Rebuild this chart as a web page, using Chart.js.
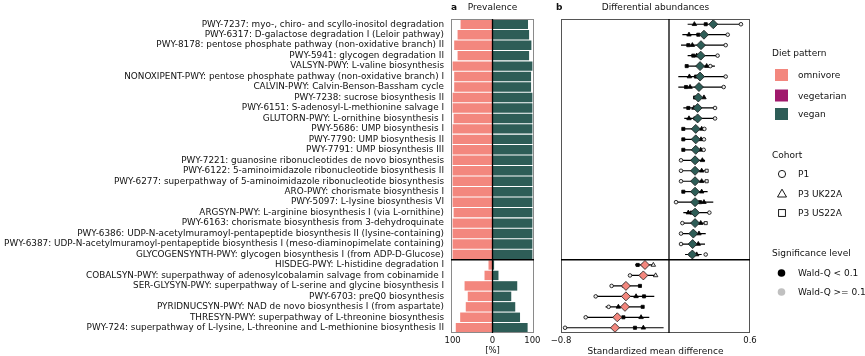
<!DOCTYPE html>
<html><head><meta charset="utf-8">
<script src="https://cdn.jsdelivr.net/npm/chart.js@4.4.1/dist/chart.umd.min.js"></script>
<style>
html,body{margin:0;padding:0;background:#fff;}
body{width:865px;height:356px;overflow:hidden;position:relative;font-family:"DejaVu Sans",sans-serif;color:#111;}
canvas{position:absolute;top:0;}
#ca{left:0;}
#cb{left:545px;}
.t{position:absolute;white-space:nowrap;line-height:1;transform:translateY(-50%);font-size:9px;}
.c{transform:translate(-50%,-50%);}
.b{font-weight:bold;}
svg{position:absolute;left:0;top:0;}
</style></head><body>
<canvas id="ca" width="545" height="356"></canvas>
<canvas id="cb" width="320" height="356"></canvas>

<div class="t b" style="left:451px;top:7px;">a</div>
<div class="t c" style="left:492.5px;top:7px;">Prevalence</div>
<div class="t b" style="left:556px;top:7px;">b</div>
<div class="t c" style="left:655.5px;top:7px;">Differential abundances</div>
<div class="t c" style="left:492.5px;top:350px;font-size:8.5px;">[%]</div>
<div class="t c" style="left:655.5px;top:351px;">Standardized mean difference</div>

<svg width="865" height="356" id="lg"></svg>
<div id="legendText"></div>

<script>
// ---------------- data ----------------
const pathways = [
  "PWY-7237: myo-, chiro- and scyllo-inositol degradation",
  "PWY-6317: D-galactose degradation I (Leloir pathway)",
  "PWY-8178: pentose phosphate pathway (non-oxidative branch) II",
  "PWY-5941: glycogen degradation II",
  "VALSYN-PWY: L-valine biosynthesis",
  "NONOXIPENT-PWY: pentose phosphate pathway (non-oxidative branch) I",
  "CALVIN-PWY: Calvin-Benson-Bassham cycle",
  "PWY-7238: sucrose biosynthesis II",
  "PWY-6151: S-adenosyl-L-methionine salvage I",
  "GLUTORN-PWY: L-ornithine biosynthesis I",
  "PWY-5686: UMP biosynthesis I",
  "PWY-7790: UMP biosynthesis II",
  "PWY-7791: UMP biosynthesis III",
  "PWY-7221: guanosine ribonucleotides de novo biosynthesis",
  "PWY-6122: 5-aminoimidazole ribonucleotide biosynthesis II",
  "PWY-6277: superpathway of 5-aminoimidazole ribonucleotide biosynthesis",
  "ARO-PWY: chorismate biosynthesis I",
  "PWY-5097: L-lysine biosynthesis VI",
  "ARGSYN-PWY: L-arginine biosynthesis I (via L-ornithine)",
  "PWY-6163: chorismate biosynthesis from 3-dehydroquinate",
  "PWY-6386: UDP-N-acetylmuramoyl-pentapeptide biosynthesis II (lysine-containing)",
  "PWY-6387: UDP-N-acetylmuramoyl-pentapeptide biosynthesis I (meso-diaminopimelate containing)",
  "GLYCOGENSYNTH-PWY: glycogen biosynthesis I (from ADP-D-Glucose)",
  "HISDEG-PWY: L-histidine degradation I",
  "COBALSYN-PWY: superpathway of adenosylcobalamin salvage from cobinamide I",
  "SER-GLYSYN-PWY: superpathway of L-serine and glycine biosynthesis I",
  "PWY-6703: preQ0 biosynthesis",
  "PYRIDNUCSYN-PWY: NAD de novo biosynthesis I (from aspartate)",
  "THRESYN-PWY: superpathway of L-threonine biosynthesis",
  "PWY-724: superpathway of L-lysine, L-threonine and L-methionine biosynthesis II"
];
const splitAfterIndex = 22; // last pathway of the vegan-enriched block

// Prevalence (%)
const omnivorePrevalence = [80,87.5,96,87.5,100,96,96,100,100,97.5,100,100,100,100,100,100,100,100,97.5,100,100,100,100, 10,20,70,62,67,81,92];
const veganPrevalence    = [89,91.7,97.5,91.7,100,96.7,96.7,100,100,100,100,100,100,100,100,100,100,100,100,100,100,100,100, 4,15,62,47,57,69,88];

// Differential abundance: pooled estimate and range
const pooledEffect = [0.328,0.259,0.237,0.235,0.230,0.230,0.222,0.217,0.212,0.212,0.198,0.198,0.198,0.193,0.193,0.193,0.193,0.193,0.193,0.193,0.180,0.175,0.173,
                      -0.178,-0.190,-0.319,-0.319,-0.326,-0.383,-0.400];
const rangeLow  = [0.138,0.099,0.089,0.138,0.128,0.069,0.069,0.180,0.106,0.113,0.101,0.101,0.101,0.082,0.082,0.082,0.100,0.052,0.106,0.099,0.089,0.089,0.119,
                   -0.252,-0.289,-0.425,-0.543,-0.470,-0.617,-0.770];
const rangeHigh = [0.533,0.435,0.420,0.360,0.340,0.420,0.405,0.265,0.341,0.341,0.270,0.267,0.265,0.267,0.285,0.285,0.286,0.328,0.299,0.272,0.272,0.267,0.242,
                   -0.116,-0.099,-0.215,-0.109,-0.195,-0.146,-0.040];
// Cohort estimates
const cohortP1    = [0.533,0.435,0.420,0.360,0.306,0.420,0.405,0.220,0.341,0.341,0.262,0.259,0.257,0.089,0.089,0.089,0.200,0.052,0.299,0.099,0.089,0.089,0.272,
                     -0.190,-0.289,-0.425,-0.543,-0.447,-0.617,-0.770];
const cohortUK22A = [0.188,0.148,0.173,0.205,0.279,0.151,0.156,0.259,0.185,0.148,0.242,0.237,0.235,0.247,0.242,0.242,0.242,0.259,0.143,0.235,0.222,0.217,0.205,
                     -0.116,-0.099,-0.330,-0.244,-0.375,-0.207,-0.190];
const cohortUS22A = [0.272,0.217,0.143,0.180,0.131,0.200,0.126,0.193,0.143,0.195,0.106,0.106,0.106,0.200,0.279,0.279,0.106,0.230,0.168,0.272,0.190,0.185,0.160,
                     -0.232,-0.200,-0.215,-0.185,-0.195,-0.338,-0.252];
// Significance (1: Wald-Q < 0.1, 0: Wald-Q >= 0.1)
const sigP1    = [0,0,0,0,0,0,0,0,0,0,0,0,0,0,0,0,0,0,0,0,0,0,0, 0,0,0,0,0,0,0];
const sigUK22A = [1,1,1,1,1,1,1,1,1,1,1,1,1,1,1,1,1,1,1,1,1,1,1, 0,0,1,1,1,1,1];
const sigUS22A = [1,1,1,1,1,1,1,1,1,1,1,1,1,1,0,0,1,1,1,0,1,1,1, 1,1,1,1,1,1,1];

const prevalenceTicks = [-100, 0, 100];
const effectTicks = [-0.8, 0.6];

// ---------------- style ----------------
const COL = {omnivore:'#F3877E', vegetarian:'#A0196C', vegan:'#2E5D57'};
const SIG = '#000000', NONSIG = '#eeeeee';
const FONT = '"DejaVu Sans", sans-serif';
Chart.defaults.font.family = FONT;
Chart.defaults.color = '#111';

const framePlugin = {
  id: 'frameLines',
  afterDatasetsDraw(chart, args, opts) {
    const {ctx, chartArea: ca, scales} = chart;
    const xs = scales.x, ys = scales.y;
    ctx.save();
    ctx.strokeStyle = opts.frameColor || '#888';
    ctx.lineWidth = 1;
    ctx.strokeRect(Math.round(ca.left)+0.5, Math.round(ca.top)+0.5, Math.round(ca.width)-1, Math.round(ca.height)-1);
    const x0 = xs.getPixelForValue(0);
    ctx.strokeStyle = '#000';
    ctx.lineWidth = 1.3;
    ctx.beginPath(); ctx.moveTo(x0, ca.top); ctx.lineTo(x0, ca.bottom); ctx.stroke();
    const ysep = (ys.getPixelForValue(splitAfterIndex) + ys.getPixelForValue(splitAfterIndex + 1)) / 2;
    ctx.beginPath(); ctx.moveTo(ca.left, ysep); ctx.lineTo(ca.right, ysep); ctx.stroke();
    ctx.restore();
  }
};

// ---------------- panel a ----------------
new Chart(document.getElementById('ca'), {
  type: 'bar',
  data: {
    labels: pathways,
    datasets: [
      {label:'omnivore', data: omnivorePrevalence.map(v => -v), backgroundColor: COL.omnivore,
       barPercentage: 0.9, categoryPercentage: 1, borderWidth: 0},
      {label:'vegan', data: veganPrevalence, backgroundColor: COL.vegan,
       barPercentage: 0.9, categoryPercentage: 1, borderWidth: 0}
    ]
  },
  options: {
    indexAxis: 'y', responsive: false, animation: false, events: [],
    layout: {padding: {left: 0, right: 11, top: 19, bottom: 0}},
    plugins: {legend: {display: false}, tooltip: {enabled: false}, frameLines: {frameColor: '#8a8a8a'}},
    scales: {
      x: {type: 'linear', min: -104, max: 104, stacked: true,
          grid: {display: false, drawTicks: false}, border: {display: false},
          afterBuildTicks: s => { s.ticks = prevalenceTicks.map(v => ({value: v})); },
          ticks: {callback: v => String(Math.abs(v)), font: {size: 8.5}, color: '#111', padding: 3, maxRotation: 0},
          afterFit: s => { s.height = 23; }},
      y: {type: 'category', stacked: true, offset: true,
          grid: {display: false, drawTicks: false}, border: {display: false},
          ticks: {autoSkip: false, font: {size: 8.85}, color: '#111', padding: 7},
          afterFit: s => { s.width = 451; }}
    }
  },
  plugins: [framePlugin]
});

// ---------------- panel b ----------------
const rangeData = [];
rangeLow.forEach((lo, i) => { rangeData.push({x: lo, y: i}, {x: rangeHigh[i], y: i}, {x: null, y: null}); });
const pts = arr => arr.map((v, i) => ({x: v, y: i}));
const sigFill = arr => arr.map(s => s ? SIG : NONSIG);

new Chart(document.getElementById('cb'), {
  type: 'scatter',
  data: {
    datasets: [
      {label: 'pooled', data: pts(pooledEffect), pointStyle: 'rectRot', pointRadius: 4.5,
       pointBackgroundColor: pooledEffect.map(v => v > 0 ? COL.vegan : COL.omnivore),
       pointBorderColor: '#1a1a1a', pointBorderWidth: 0.8, order: 0},
      {label: 'P1', data: pts(cohortP1), pointStyle: 'circle', pointRadius: 1.8,
       pointBackgroundColor: sigFill(sigP1), pointBorderColor: '#000', pointBorderWidth: 0.8, order: 1},
      {label: 'P3 UK22A', data: pts(cohortUK22A), pointStyle: 'triangle', pointRadius: 2.6,
       pointBackgroundColor: sigFill(sigUK22A), pointBorderColor: '#000', pointBorderWidth: 0.8, order: 2},
      {label: 'P3 US22A', data: pts(cohortUS22A), pointStyle: 'rect', pointRadius: 2.2,
       pointBackgroundColor: sigFill(sigUS22A), pointBorderColor: '#000', pointBorderWidth: 0.8, order: 3},
      {label: 'range', data: rangeData, showLine: true, spanGaps: false, pointRadius: 0,
       borderColor: '#000', borderWidth: 1.2, order: 4}
    ]
  },
  options: {
    responsive: false, animation: false, events: [],
    layout: {padding: {left: 16, right: 115, top: 19, bottom: 0}},
    plugins: {legend: {display: false}, tooltip: {enabled: false}, frameLines: {frameColor: '#555'}},
    scales: {
      x: {type: 'linear', min: -0.8, max: 0.6,
          grid: {display: false, drawTicks: false}, border: {display: false},
          afterBuildTicks: s => { s.ticks = effectTicks.map(v => ({value: v})); },
          ticks: {callback: v => (v < 0 ? '\u2212' : '') + Math.abs(v).toFixed(1), font: {size: 8.5}, color: '#111', padding: 3, maxRotation: 0},
          afterFit: s => { s.height = 23; }},
      y: {type: 'linear', display: false, min: -0.5, max: pathways.length - 0.5, reverse: true}
    }
  },
  plugins: [framePlugin]
});

// ---------------- legend ----------------
const dietLegend = ['omnivore', 'vegetarian', 'vegan'];
const cohortLegend = ['P1', 'P3 UK22A', 'P3 US22A'];
const sigLegend = ['Wald-Q < 0.1', 'Wald-Q >= 0.1'];
const svg = document.getElementById('lg');
const lt = document.getElementById('legendText');
function txt(s, x, y) {
  const d = document.createElement('div');
  d.className = 't'; d.style.left = x + 'px'; d.style.top = y + 'px'; d.textContent = s;
  lt.appendChild(d);
}
let svgHtml = '';
txt('Diet pattern', 772, 53);
const dietY = [75, 95.5, 114];
dietLegend.forEach((d, i) => {
  svgHtml += `<rect x="775" y="${dietY[i]-6}" width="13" height="12" fill="${COL[d]}"/>`;
  txt(d, 798, dietY[i]);
});
txt('Cohort', 772, 155);
const cohY = [174, 193.5, 213];
svgHtml += `<circle cx="782" cy="${cohY[0]}" r="3.6" fill="none" stroke="#000" stroke-width="0.9"/>`;
svgHtml += `<polygon points="777.5,${cohY[1]+3.5} 786.5,${cohY[1]+3.5} 782,${cohY[1]-4.3}" fill="none" stroke="#000" stroke-width="0.9"/>`;
svgHtml += `<rect x="778.6" y="${cohY[2]-3.4}" width="6.8" height="6.8" fill="none" stroke="#000" stroke-width="0.9"/>`;
cohortLegend.forEach((c, i) => txt(c, 798, cohY[i]));
txt('Significance level', 772, 253);
const sigY = [273, 292];
svgHtml += `<circle cx="781.5" cy="${sigY[0]}" r="3.8" fill="${SIG}"/>`;
svgHtml += `<circle cx="781.5" cy="${sigY[1]}" r="3.8" fill="#c0c0c0"/>`;
sigLegend.forEach((s, i) => txt(s, 798, sigY[i]));
svg.innerHTML = svgHtml;
</script>
</body></html>
